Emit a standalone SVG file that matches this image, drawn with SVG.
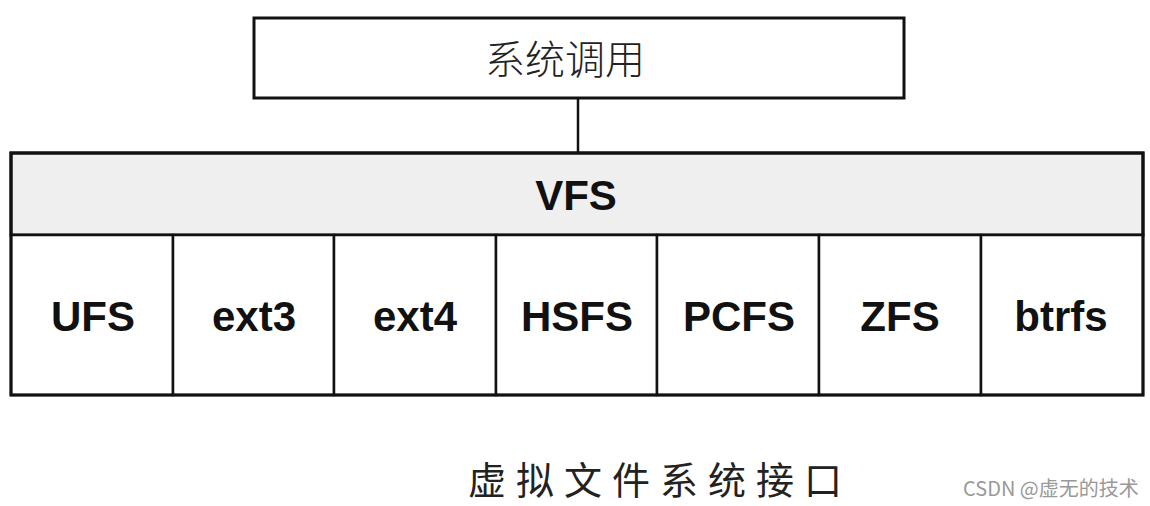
<svg xmlns="http://www.w3.org/2000/svg" width="1150" height="506" viewBox="0 0 1150 506">
<style>
.box{fill:#fff;stroke:#111;stroke-width:3}
.cell{fill:#fff;stroke:#111;stroke-width:2.5}
.lbl{font-family:"Liberation Sans",Arial,sans-serif;font-weight:bold;font-size:42px;fill:#111;text-anchor:middle}
.cjk{font-family:"Noto Sans CJK SC",sans-serif;fill:#222}
</style>
<rect width="1150" height="506" fill="#fff"/>
<g id="connectors">
<line x1="578" y1="98" x2="578" y2="153" stroke="#111" stroke-width="2.5"/>
</g>
<g id="syscall">
<rect class="box" x="254" y="18" width="650" height="80"/>
<text class="cjk" x="565" y="74" font-size="40" text-anchor="middle" font-weight="300">系统调用</text>
</g>
<g id="vfs">
<rect x="11" y="153" width="1132" height="82" fill="#efefef" stroke="#111" stroke-width="3"/>
<text class="lbl" x="576" y="210">VFS</text>
</g>
<g id="ufs"><rect class="cell" x="11" y="235" width="162" height="160"/><text class="lbl" x="93" y="331">UFS</text></g>
<g id="ext3"><rect class="cell" x="173" y="235" width="161" height="160"/><text class="lbl" x="254" y="331">ext3</text></g>
<g id="ext4"><rect class="cell" x="334" y="235" width="162" height="160"/><text class="lbl" x="415" y="331">ext4</text></g>
<g id="hsfs"><rect class="cell" x="496" y="235" width="161" height="160"/><text class="lbl" x="577" y="331">HSFS</text></g>
<g id="pcfs"><rect class="cell" x="657" y="235" width="162" height="160"/><text class="lbl" x="739" y="331">PCFS</text></g>
<g id="zfs"><rect class="cell" x="819" y="235" width="162" height="160"/><text class="lbl" x="900" y="331">ZFS</text></g>
<g id="btrfs"><rect class="cell" x="981" y="235" width="162" height="160"/><text class="lbl" x="1061" y="331">btrfs</text></g>
<rect x="11" y="153" width="1132" height="242" fill="none" stroke="#111" stroke-width="3"/>
<text class="cjk" x="468" y="494" font-size="38" letter-spacing="10">虚拟文件系统接口</text>
<text x="963" y="496" font-family="'Noto Sans CJK SC',sans-serif" font-size="20" fill="#999">CSDN @虚无的技术</text>
</svg>
